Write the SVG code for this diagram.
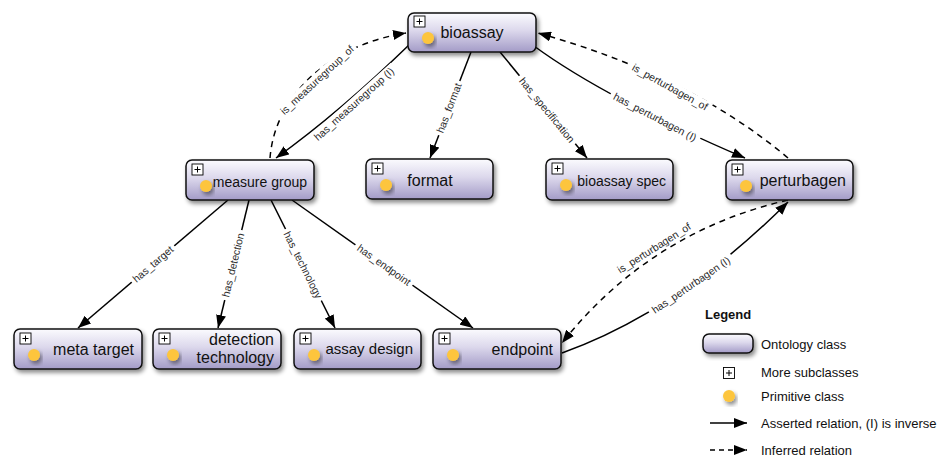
<svg xmlns="http://www.w3.org/2000/svg" width="947" height="457" viewBox="0 0 947 457">
  <defs>
    <linearGradient id="classFill" x1="0" y1="0" x2="0" y2="1">
      <stop offset="0" stop-color="#fbfbfe"/>
      <stop offset="0.45" stop-color="#dcd8ec"/>
      <stop offset="1" stop-color="#a39bc7"/>
    </linearGradient>
    <filter id="shadow" x="-20%" y="-30%" width="140%" height="170%">
      <feDropShadow dx="2" dy="3" stdDeviation="2" flood-color="#000" flood-opacity="0.45"/>
    </filter>
    <marker id="arrow" markerUnits="userSpaceOnUse" markerWidth="13" markerHeight="10" refX="13" refY="5" orient="auto">
      <path d="M0,0 L13,5 L0,10 z" fill="#000"/>
    </marker>
    <g id="icons">
      <rect x="6" y="4" width="11" height="11" fill="#fff" stroke="#000" stroke-width="0.9"/>
      <path d="M8.5,9.5 H14.5 M11.5,6.5 V12.5" stroke="#000" stroke-width="1"/>
      <circle cx="20" cy="26" r="6" fill="#fdc53c" filter="url(#shadow)"/>
    </g>
  </defs>
  <style>
    .cls { fill: url(#classFill); stroke: #111; stroke-width: 1.5; filter: url(#shadow); }
    .lbl { font-family: "Liberation Sans", Helvetica, Arial, sans-serif; fill: #111; }
    .edge { fill: none; stroke: #000; stroke-width: 1.5; marker-end: url(#arrow); }
    .inferred { stroke-dasharray: 6 5; }
    .elbl { font-family: "Liberation Sans", Helvetica, Arial, sans-serif; font-size: 10.5px; fill: #2a2a2a; text-anchor: middle; }
    .bg { fill: #fff; }
    .legend { font-family: "Liberation Sans", Helvetica, Arial, sans-serif; font-size: 13px; fill: #111; }
  </style>

  <rect width="947" height="457" fill="#fff"/>

  <!-- connectors -->
  <g id="connectors">
    <path class="edge" d="M410,44 Q340,112 276,158"/>
    <path class="edge inferred" d="M270,158 C275,95 330,45 406,33"/>
    <path class="edge" d="M471,52 L430,158"/>
    <path class="edge" d="M500,52 L587,158"/>
    <path class="edge" d="M534,46 Q605,98 745,158"/>
    <path class="edge inferred" d="M788,158 Q691,76 538,33"/>
    <path class="edge" d="M228,200 L78,328"/>
    <path class="edge" d="M249,200 L218,328"/>
    <path class="edge" d="M271,200 L335,328"/>
    <path class="edge" d="M292,200 L473,328"/>
    <path class="edge inferred" d="M788,200 Q650,232 562,343"/>
    <path class="edge" d="M562,353 Q679,311 788,202"/>

    <!-- connector labels -->
    <g transform="translate(354,104) rotate(-42)"><rect class="bg" x="-55" y="-6" width="110" height="12"/><text class="elbl" y="3.7">has_measuregroup (I)</text></g>
    <g transform="translate(317,80) rotate(-43)"><rect class="bg" x="-51" y="-6" width="102" height="12"/><text class="elbl" y="3.7">is_measuregroup_of</text></g>
    <g transform="translate(449,108) rotate(-69)"><rect class="bg" x="-29" y="-6" width="58" height="12"/><text class="elbl" y="3.7">has_format</text></g>
    <g transform="translate(547,110) rotate(50.6)"><rect class="bg" x="-44" y="-6" width="88" height="12"/><text class="elbl" y="3.7">has_specification</text></g>
    <g transform="translate(655,117) rotate(27.6)"><rect class="bg" x="-50" y="-6" width="100" height="12"/><text class="elbl" y="3.7">has_perturbagen (I)</text></g>
    <g transform="translate(670,87) rotate(29)"><rect class="bg" x="-46" y="-6" width="92" height="12"/><text class="elbl" y="3.7">is_perturbagen_of</text></g>
    <g transform="translate(153,264) rotate(-40.7)"><rect class="bg" x="-28" y="-6" width="56" height="12"/><text class="elbl" y="3.7">has_target</text></g>
    <g transform="translate(233,265) rotate(-76.4)"><rect class="bg" x="-36" y="-6" width="72" height="12"/><text class="elbl" y="3.7">has_detection</text></g>
    <g transform="translate(303,265) rotate(63.4)"><rect class="bg" x="-40" y="-6" width="80" height="12"/><text class="elbl" y="3.7">has_technology</text></g>
    <g transform="translate(384,265) rotate(35.3)"><rect class="bg" x="-35" y="-6" width="70" height="12"/><text class="elbl" y="3.7">has_endpoint</text></g>
    <g transform="translate(654,248) rotate(-32.3)"><rect class="bg" x="-46" y="-6" width="92" height="12"/><text class="elbl" y="3.7">is_perturbagen_of</text></g>
    <g transform="translate(691,285) rotate(-34.4)"><rect class="bg" x="-50" y="-6" width="100" height="12"/><text class="elbl" y="3.7">has_perturbagen (I)</text></g>
  </g>

  <!-- ontology classes -->
  <g id="bioassay" transform="translate(408,13)">
    <rect class="cls" width="128" height="39" rx="6"/>
    <use href="#icons" y="-1"/>
    <text class="lbl" x="64" y="25" font-size="16" text-anchor="middle">bioassay</text>
  </g>
  <g id="measure-group" transform="translate(186,160)">
    <rect class="cls" width="128" height="40" rx="6"/>
    <use href="#icons"/>
    <text class="lbl" x="121" y="27" font-size="14" text-anchor="end">measure group</text>
  </g>
  <g id="format" transform="translate(366,159)">
    <rect class="cls" width="127" height="40" rx="6"/>
    <use href="#icons"/>
    <text class="lbl" x="64" y="27" font-size="16" text-anchor="middle">format</text>
  </g>
  <g id="bioassay-spec" transform="translate(546,159)">
    <rect class="cls" width="127" height="41" rx="6"/>
    <use href="#icons"/>
    <text class="lbl" x="120" y="27" font-size="14" text-anchor="end">bioassay spec</text>
  </g>
  <g id="perturbagen" transform="translate(726,160)">
    <rect class="cls" width="127" height="40" rx="6"/>
    <use href="#icons"/>
    <text class="lbl" x="120" y="26" font-size="16" text-anchor="end">perturbagen</text>
  </g>
  <g id="meta-target" transform="translate(14,329)">
    <rect class="cls" width="128" height="40" rx="6"/>
    <use href="#icons"/>
    <text class="lbl" x="120" y="26" font-size="16" text-anchor="end">meta target</text>
  </g>
  <g id="detection-technology" transform="translate(153,329)">
    <rect class="cls" width="128" height="40" rx="6"/>
    <use href="#icons"/>
    <text class="lbl" x="121" y="16" font-size="16" text-anchor="end">detection</text>
    <text class="lbl" x="121" y="34" font-size="16" text-anchor="end">technology</text>
  </g>
  <g id="assay-design" transform="translate(294,329)">
    <rect class="cls" width="127" height="40" rx="6"/>
    <use href="#icons"/>
    <text class="lbl" x="119" y="25" font-size="15" text-anchor="end">assay design</text>
  </g>
  <g id="endpoint" transform="translate(433,329)">
    <rect class="cls" width="128" height="40" rx="6"/>
    <use href="#icons"/>
    <text class="lbl" x="120" y="26" font-size="16" text-anchor="end">endpoint</text>
  </g>

  <!-- legend -->
  <g id="legend">
    <text class="legend" x="705" y="319" font-weight="bold">Legend</text>
    <rect class="cls" x="703" y="334" width="50" height="19" rx="6"/>
    <text class="legend" x="761" y="349">Ontology class</text>
    <rect x="723.5" y="367.5" width="11" height="11" fill="#fff" stroke="#000" stroke-width="0.9"/>
    <path d="M726,373 H732 M729,370 V376" stroke="#000" stroke-width="1"/>
    <text class="legend" x="761" y="377">More subclasses</text>
    <circle cx="729" cy="396" r="6" fill="#fdc53c" filter="url(#shadow)"/>
    <text class="legend" x="761" y="401">Primitive class</text>
    <path class="edge" d="M710,423 L747,423"/>
    <text class="legend" x="761" y="428">Asserted relation, (I) is inverse</text>
    <path class="edge" d="M710,450 L747,450" stroke-dasharray="5 4"/>
    <text class="legend" x="761" y="455">Inferred relation</text>
  </g>
</svg>
